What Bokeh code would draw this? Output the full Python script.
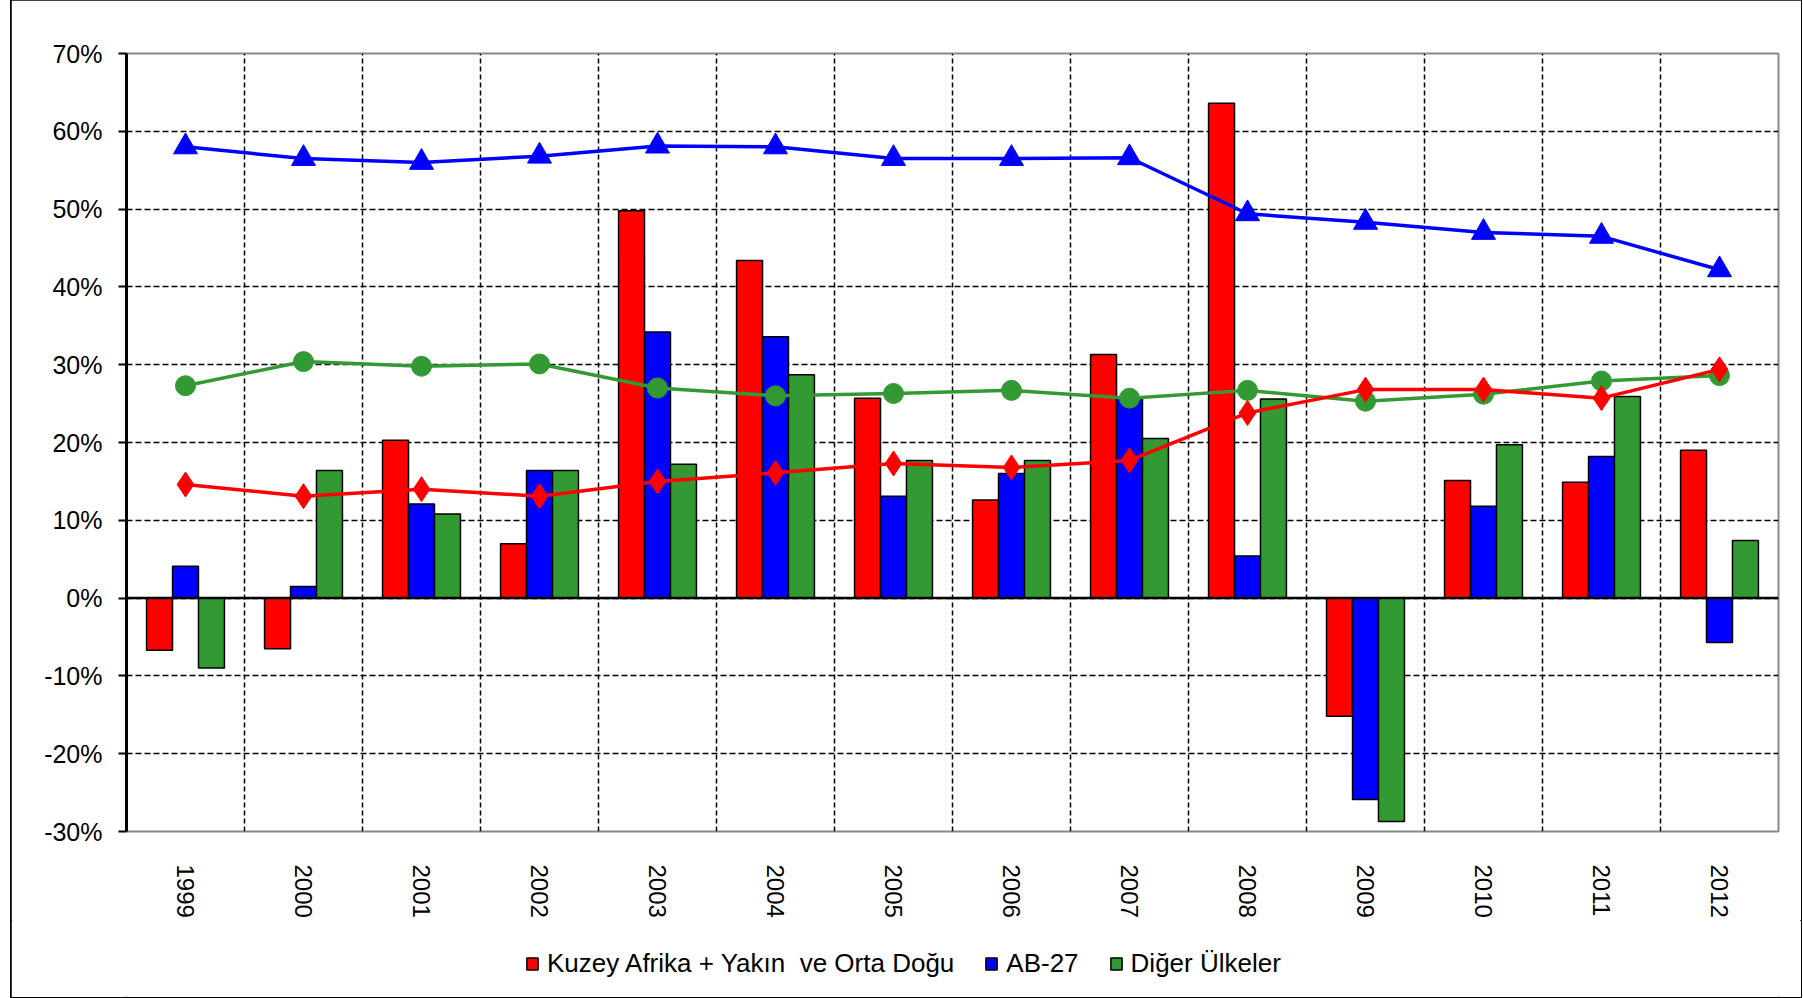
import numpy as np
from bokeh.plotting import figure
from bokeh.layouts import column
from bokeh.models import (ColumnDataSource, FixedTicker, Legend, LegendItem, Span,
                          Grid, Range1d, PrintfTickFormatter)
from bokeh.embed import file_html
from bokeh.resources import INLINE

years = ["1999", "2000", "2001", "2002", "2003", "2004", "2005",
         "2006", "2007", "2008", "2009", "2010", "2011", "2012"]

# annual change (bars, %)
kuzey_bar = [-6.7, -6.5, 20.3, 7.0, 49.8, 43.4, 25.7, 12.6, 31.3, 63.6, -15.2, 15.1, 14.9, 19.0]
ab27_bar = [4.1, 1.5, 12.1, 16.4, 34.2, 33.6, 13.1, 16.0, 25.8, 5.4, -25.9, 11.8, 18.2, -5.7]
diger_bar = [-9.0, 16.4, 10.8, 16.4, 17.2, 28.7, 17.7, 17.7, 20.5, 25.6, -28.7, 19.7, 25.9, 7.4]

# shares (lines, %)
kuzey_share = [14.6, 13.1, 14.0, 13.1, 15.0, 16.1, 17.3, 16.8, 17.7, 23.8, 26.8, 26.8, 25.7, 29.4]
ab27_share = [58.0, 56.5, 56.0, 56.8, 58.1, 58.0, 56.5, 56.5, 56.6, 49.4, 48.3, 47.0, 46.5, 42.2]
diger_share = [27.3, 30.4, 29.8, 30.1, 27.0, 26.0, 26.3, 26.7, 25.7, 26.7, 25.3, 26.2, 27.9, 28.6]

series_labels = ["Kuzey Afrika + Yakın  ve Orta Doğu", "AB-27", "Diğer Ülkeler"]
y_ticks = [-30, -20, -10, 0, 10, 20, 30, 40, 50, 60, 70]

RED, BLUE, GREEN = "#FF0000", "#0000FF", "#339933"
COLORS = [RED, BLUE, GREEN]
FONT = "Liberation Sans"
W = 1790

n = len(years)
centers = np.arange(n) + 0.5
bw = 0.22

src = ColumnDataSource(dict(
    xc=centers, xr=centers - bw, xb=centers, xg=centers + bw,
    kb=kuzey_bar, ab=ab27_bar, db=diger_bar,
    ks=kuzey_share, as_=ab27_share, ds=diger_share,
))

p = figure(width=W, height=920, output_backend="svg", toolbar_location=None,
           x_range=Range1d(0, n), y_range=Range1d(-30, 70),
           min_border_left=115, min_border_top=53, min_border_right=23,
           min_border_bottom=87)

p.outline_line_color = "#888888"
p.outline_line_width = 2
p.background_fill_color = "white"
p.border_fill_color = "white"

# grids
p.xgrid.visible = False
p.ygrid.ticker = FixedTicker(ticks=y_ticks[1:-1])
p.ygrid.grid_line_color = "black"
p.ygrid.grid_line_dash = "6 3"
p.ygrid.grid_line_width = 1.5
vgrid = Grid(dimension=0, ticker=FixedTicker(ticks=list(range(1, n))),
             grid_line_color="black", grid_line_dash="5 3", grid_line_width=1.5)
p.add_layout(vgrid)

# bars
for xcol, ycol, col in [("xr", "kb", RED), ("xb", "ab", BLUE), ("xg", "db", GREEN)]:
    p.vbar(x=xcol, top=ycol, bottom=0, width=bw, source=src, fill_color=col,
           line_color="black", line_width=1.5)

p.add_layout(Span(location=0, dimension="width", line_color="black", line_width=2.5))

# lines
p.line("xc", "as_", source=src, line_color=BLUE, line_width=3.5)
p.scatter("xc", "as_", source=src, marker="triangle", size=24, fill_color=BLUE, line_color=BLUE)
p.line("xc", "ds", source=src, line_color=GREEN, line_width=3.5)
p.scatter("xc", "ds", source=src, marker="circle", size=20, fill_color=GREEN, line_color=GREEN)
p.line("xc", "ks", source=src, line_color=RED, line_width=3.5)
p.scatter("xc", "ks", source=src, marker="diamond", size=25, fill_color=RED, line_color=RED)

# axes
yax = p.yaxis[0]
yax.ticker = FixedTicker(ticks=y_ticks)
yax.formatter = PrintfTickFormatter(format="%d%%")
yax.axis_line_color = "black"
yax.axis_line_width = 3
yax.major_tick_line_color = "black"
yax.major_tick_line_width = 2
yax.major_tick_out = 8
yax.major_tick_in = 0
yax.minor_tick_line_color = None
yax.major_label_text_font = FONT
yax.major_label_text_font_size = "25px"
yax.major_label_text_color = "black"
yax.major_label_standoff = 16

xax = p.xaxis[0]
xax.ticker = FixedTicker(ticks=list(centers))
xax.major_label_overrides = {float(c): y for c, y in zip(centers, years)}
xax.major_label_orientation = -np.pi / 2
xax.axis_line_color = None
xax.major_tick_line_color = None
xax.minor_tick_line_color = None
xax.major_label_text_font = FONT
xax.major_label_text_font_size = "24px"
xax.major_label_text_color = "black"
xax.major_label_standoff = 27

# legend strip (separate figure below the chart); placeholder renderers draw nothing
lg = figure(width=W, height=77, output_backend="svg", toolbar_location=None,
            x_range=Range1d(0, 1), y_range=Range1d(0, 1),
            min_border=0, min_border_left=0, min_border_right=0,
            min_border_top=0, min_border_bottom=0)
lg.axis.visible = False
lg.grid.visible = False
lg.outline_line_color = None
placeholder = ColumnDataSource(dict(x=[np.nan], top=[np.nan]))
items = []
for lab, col in zip(series_labels, COLORS):
    r = lg.vbar(x="x", top="top", width=0.1, source=placeholder, fill_color=col,
                line_color="black", line_width=1.5)
    items.append(LegendItem(label=lab, renderers=[r]))
legend = Legend(items=items, orientation="horizontal", location=(399, 18),
                glyph_width=14, glyph_height=15, label_standoff=8, spacing=30,
                padding=5, margin=0, border_line_color=None,
                background_fill_alpha=0,
                label_text_font=FONT, label_text_font_size="26px",
                label_text_color="black", label_height=26)
lg.add_layout(legend, "center")

layout = column(p, lg, spacing=0)
layout.styles = {"margin-left": "11px", "outline": "2px solid #000", "outline-offset": "-1px"}

open("out.html", "w").write(file_html(layout, INLINE))
